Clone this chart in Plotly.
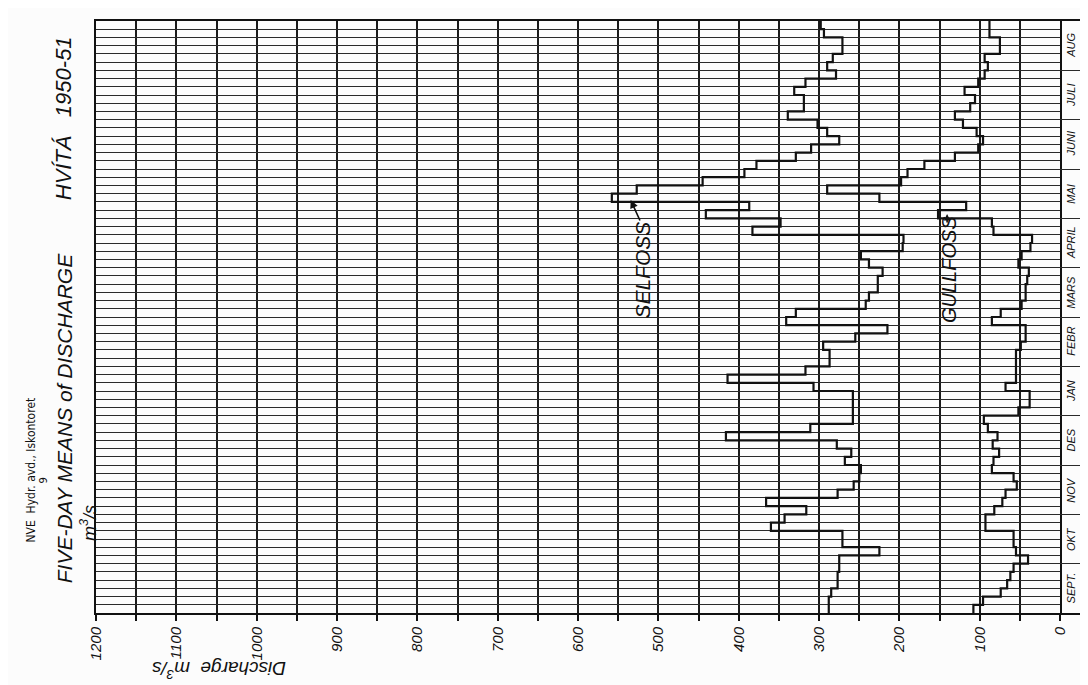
import plotly.graph_objects as go

# ---- data (five-day means, m3/s), pentad 1 = first pentad of September ----
months = ["SEPT.", "OKT", "NOV", "DES", "JAN", "FEBR", "MARS", "APRIL", "MAI", "JUNI", "JULI", "AUG"]
selfoss = [288, 288, 285, 277, 277, 275,
           275, 225, 271, 271, 360, 343,
           316, 366, 277, 257, 250, 248,
           268, 260, 278, 416, 311, 258,
           258, 258, 258, 307, 414, 317,
           287, 287, 295, 255, 215, 341,
           329, 242, 238, 227, 227, 221,
           238, 248, 196, 195, 383, 348,
           441, 387, 558, 527, 445, 393,
           378, 329, 310, 275, 290, 302,
           339, 319, 319, 331, 317, 279,
           290, 283, 271, 271, 294, 298]
gullfoss = [108, 96, 74, 66, 62, 58,
            40, 55, 58, 58, 93, 93,
            82, 72, 68, 54, 58, 85,
            83, 76, 84, 78, 90, 95,
            52, 38, 38, 68, 55, 55,
            55, 55, 49, 43, 43, 85,
            74, 48, 43, 43, 41, 39,
            52, 48, 37, 35, 83, 85,
            152, 117, 225, 290, 198, 190,
            169, 131, 102, 96, 104, 121,
            131, 112, 106, 119, 102, 94,
            90, 94, 75, 75, 88, 88]
tick_values = list(range(0, 1201, 100))
tick_labels = [str(v) for v in tick_values]

PENTADS_PER_MONTH = 6
n = len(selfoss)
FONT = "Liberation Sans Narrow, Liberation Sans, DejaVu Sans Condensed, sans-serif"

W, H = 1088, 685
ML, MR, MT, MB = 88, 6, 13, 80
PW = W - ML - MR
PH = H - MT - MB
X_ZERO = 1060
split = (X_ZERO - ML) / PW


def px(X):
    return (X - ML) / PW


def py(Y):
    return (H - MB - Y) / PH


def step_xy(vals):
    ys = list(range(len(vals))) + [len(vals)]
    xs = list(vals) + [vals[-1]]
    return xs, ys


fig = go.Figure()
for name, vals in (("Selfoss", selfoss), ("Gullfoss", gullfoss)):
    xs, ys = step_xy(vals)
    fig.add_trace(go.Scatter(x=xs, y=ys, mode="lines", line_shape="vh",
                             line=dict(color="#111111", width=2.2), name=name,
                             showlegend=False, xaxis="x", yaxis="y"))

# month column (invisible helper trace so the axes exist)
fig.add_trace(go.Scatter(x=[0, 1], y=[0, n], mode="markers", marker=dict(opacity=0),
                         showlegend=False, hoverinfo="skip", xaxis="x2", yaxis="y2"))

fig.update_layout(
    width=W, height=H,
    margin=dict(l=ML, r=MR, t=MT, b=MB),
    paper_bgcolor="#fcfcfc", plot_bgcolor="#fcfcfc",
    font=dict(family=FONT, color="#111111"),
    xaxis=dict(domain=[0, split], range=[1200, 0], tickvals=tick_values, ticktext=tick_labels,
               tickangle=-90, tickfont=dict(size=15, style="italic"),
               ticks="outside", ticklen=6, tickwidth=1.5, tickcolor="#111",
               showgrid=True, gridcolor="#1a1a1a", gridwidth=1.8,
               minor=dict(dtick=50, showgrid=True, gridcolor="#1a1a1a", gridwidth=1.8,
                          ticks="outside", ticklen=6, tickcolor="#111"),
               showline=True, linecolor="#111", linewidth=2, mirror=True,
               zeroline=False, fixedrange=True),
    yaxis=dict(range=[0, n], dtick=1, showticklabels=False, ticks="",
               showgrid=True, gridcolor="#2a2a2a", gridwidth=1,
               showline=True, linecolor="#111", linewidth=2, mirror=True,
               zeroline=False, fixedrange=True),
    xaxis2=dict(domain=[split, 1], range=[0, 1], showticklabels=False, ticks="",
                showgrid=False, showline=True, linecolor="#111", linewidth=2, mirror=True,
                zeroline=False, anchor="y2", fixedrange=True),
    yaxis2=dict(range=[0, n], tickvals=list(range(0, n + 1, PENTADS_PER_MONTH)),
                showticklabels=False, ticks="", showgrid=True, gridcolor="#2a2a2a",
                gridwidth=1.2, showline=False, zeroline=False, anchor="x2",
                fixedrange=True),
)

C = dict(xanchor="center", yanchor="middle", showarrow=False, xref="paper", yref="paper")
ann = []
# month labels
for i, m in enumerate(months):
    ann.append(dict(x=0.5, y=i * PENTADS_PER_MONTH + PENTADS_PER_MONTH / 2, xref="x2", yref="y2",
                    xanchor="center", yanchor="middle",
                    text=m, textangle=-90, showarrow=False,
                    font=dict(size=11, style="italic", family=FONT)))

# titles and labels
ann += [
    dict(C, x=px(56), y=py(110), text="HVÍTÁ   1950-51",
         textangle=-90, font=dict(size=22, style="italic")),
    dict(C, x=px(56), y=py(410), text="FIVE-DAY MEANS of DISCHARGE",
         textangle=-90, font=dict(size=21, style="italic")),
    dict(C, x=px(80), y=py(515), text="m<sup>3</sup>/s",
         textangle=-90, font=dict(size=18, style="italic")),
    dict(C, x=px(22), y=py(462), text="NVE  Hydr. avd., Iskontoret",
         textangle=-90, font=dict(size=12, family="DejaVu Sans Condensed, DejaVu Sans")),
    dict(C, x=px(35), y=py(472), text="9",
         textangle=-90, font=dict(size=10, family="DejaVu Sans")),
    dict(C, x=px(212), y=py(662), text="Discharge  m<sup>3</sup>/s",
         textangle=180, font=dict(size=19, style="italic")),
    dict(C, x=px(638), y=py(262), text="SELFOSS",
         textangle=-90, font=dict(size=21, style="italic")),
    dict(C, x=px(948), y=py(262), text="GULLFOSS",
         textangle=-90, font=dict(size=20, style="italic")),
    # arrows
    dict(x=px(627), y=py(192), xref="paper", yref="paper", ax=10, ay=22, text="",
         showarrow=True, arrowhead=2, arrowsize=1, arrowwidth=1.6, arrowcolor="#111"),
    dict(x=px(946), y=py(206), xref="paper", yref="paper", ax=0, ay=10, text="",
         showarrow=True, arrowhead=2, arrowsize=0.8, arrowwidth=1.6, arrowcolor="#111"),
]
fig.update_layout(annotations=ann)

# double border on the right of the month column
fig.add_shape(type="line", xref="paper", yref="paper", x0=1.004, x1=1.004, y0=-0.003, y1=1.0,
              line=dict(color="#111", width=2))

fig.write_html("out.html")
